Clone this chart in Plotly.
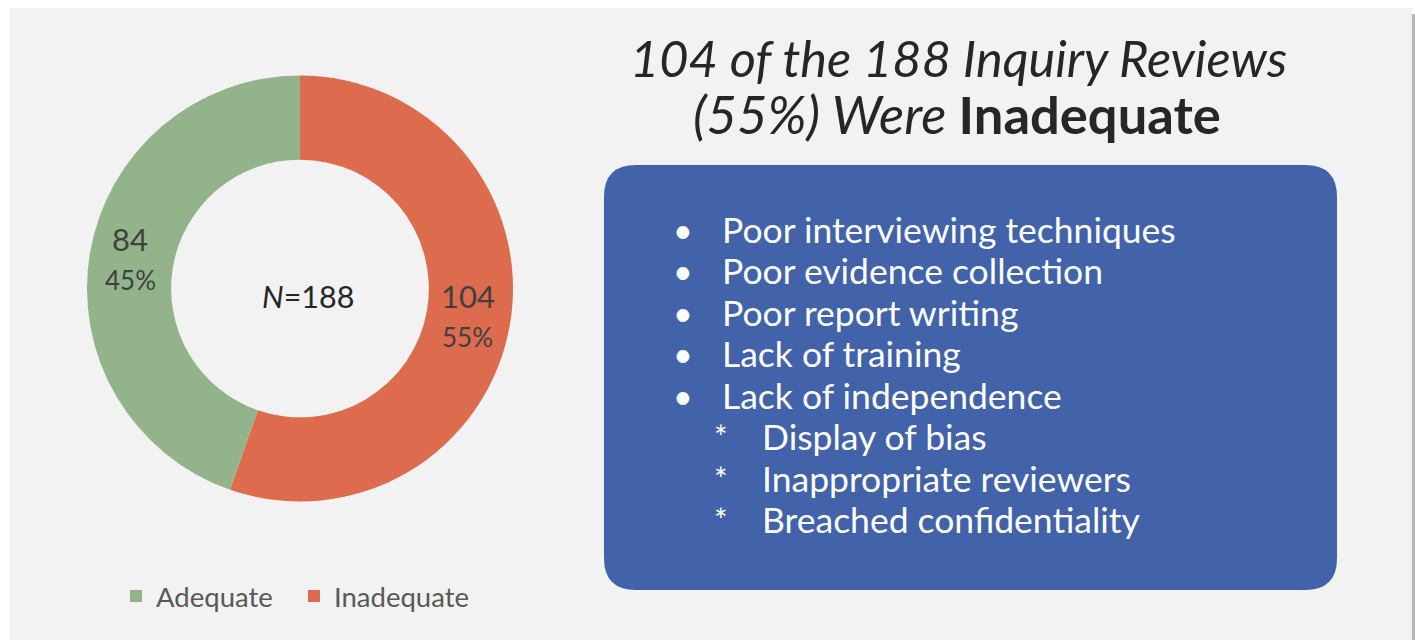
import math
import plotly.graph_objects as go

W, H = 1415, 640

# ---- data ----
labels = ["Adequate", "Inadequate"]
values = [84, 104]
colors = ["#93b48b", "#dd6b4e"]
title_line1 = "104 of the 188 Inquiry Reviews"
title_line2_a = "(55%) Were "
title_line2_b = "Inadequate"
bullets = ["Poor interviewing techniques", "Poor evidence collection",
           "Poor report writing", "Lack of training", "Lack of independence"]
sub_bullets = ["Display of bias", "Inappropriate reviewers", "Breached confidentiality"]
total_n = sum(values)


def fx(x):
    return x / W


def fy(y):
    return 1 - y / H


FONT = "Lato"

# pie geometry (pixels)
PIE_L, PIE_R, PIE_T, PIE_B = 87, 513, 75, 502
HOLE = 0.605

fig = go.Figure()

# slices listed in reverse so that "Inadequate" runs clockwise from 12 o'clock
# (right half) and "Adequate" fills the left half; legend order is restored below
fig.add_trace(go.Pie(
    labels=labels[::-1], values=values[::-1], sort=False, direction="clockwise", rotation=0,
    hole=HOLE,
    marker=dict(colors=colors[::-1], line=dict(width=0)),
    textinfo="none",
    domain=dict(x=[fx(PIE_L), fx(PIE_R)], y=[fy(PIE_B), fy(PIE_T)]),
    showlegend=True, hoverinfo="label+value+percent",
))

# data labels at the middle of each ring segment
cx, cy = (PIE_L + PIE_R) / 2, (PIE_T + PIE_B) / 2
R = min(PIE_R - PIE_L, PIE_B - PIE_T) / 2
rmid = R * (1 + HOLE) / 2
ann = []
start = 0.0
for lab, val in zip(labels[::-1], values[::-1]):
    frac = val / total_n
    mid = (start + frac / 2) * 2 * math.pi
    start += frac
    lx = cx + rmid * math.sin(mid)
    ly = cy - rmid * math.cos(mid)
    ann.append(dict(x=fx(lx - 1), y=fy(ly - 21), xref="paper", yref="paper", showarrow=False,
                    text=f"{val}", font=dict(family=FONT, size=31, color="#404040"),
                    xanchor="center", yanchor="middle"))
    ann.append(dict(x=fx(lx - 1), y=fy(ly + 20), xref="paper", yref="paper", showarrow=False,
                    text=f"{round(frac * 100)}%", font=dict(family=FONT, size=26, color="#404040"),
                    xanchor="center", yanchor="middle"))

shapes = []
# grey slide panel with a thin shadow on its right edge
shapes.append(dict(type="rect", xref="paper", yref="paper", x0=fx(9), x1=fx(1412), y0=0, y1=fy(8),
                   fillcolor="#f2f2f2", line=dict(width=0), layer="below"))
shapes.append(dict(type="rect", xref="paper", yref="paper", x0=fx(1412), x1=1, y0=0, y1=fy(14),
                   fillcolor="#b5b5b5", line=dict(width=0), layer="below"))

# rounded blue box
bx0, bx1, by0, by1, r = 604, 1337, 165, 590, 32
def P(x, y):
    return f"{fx(x):.6f},{fy(y):.6f}"
path = (f"M {P(bx0 + r, by0)} L {P(bx1 - r, by0)} Q {P(bx1, by0)} {P(bx1, by0 + r)} "
        f"L {P(bx1, by1 - r)} Q {P(bx1, by1)} {P(bx1 - r, by1)} "
        f"L {P(bx0 + r, by1)} Q {P(bx0, by1)} {P(bx0, by1 - r)} "
        f"L {P(bx0, by0 + r)} Q {P(bx0, by0)} {P(bx0 + r, by0)} Z")
shapes.append(dict(type="path", xref="paper", yref="paper", path=path,
                   fillcolor="#4262aa", line=dict(width=0), layer="below"))

ann.append(dict(x=fx(958), y=fy(57), xref="paper", yref="paper", showarrow=False,
                text=f"<i>{title_line1}</i>", font=dict(family=FONT, size=50.5, color="#262626"),
                xanchor="center", yanchor="middle"))
ann.append(dict(x=fx(957), y=fy(114), xref="paper", yref="paper", showarrow=False,
                text=f"<i>{title_line2_a}</i><b>{title_line2_b}</b>",
                font=dict(family=FONT, size=52.5, color="#262626"),
                xanchor="center", yanchor="middle"))

ann.append(dict(x=fx(308), y=fy(296), xref="paper", yref="paper", showarrow=False,
                text=f"<i>N</i>={total_n}", font=dict(family=FONT, size=30.5, color="#262626"),
                xanchor="center", yanchor="middle"))

line_y0, line_dy = 229, 41.5
for i, b in enumerate(bullets):
    y = line_y0 + i * line_dy
    ann.append(dict(x=fx(683), y=fy(y), xref="paper", yref="paper", showarrow=False,
                    text="•", font=dict(family=FONT, size=34, color="white"),
                    xanchor="center", yanchor="middle"))
    ann.append(dict(x=fx(720), y=fy(y), xref="paper", yref="paper", showarrow=False,
                    text=b, font=dict(family=FONT, size=35.5, color="white"),
                    xanchor="left", yanchor="middle"))
for j, s in enumerate(sub_bullets):
    y = line_y0 + (len(bullets) + j) * line_dy
    ann.append(dict(x=fx(721), y=fy(y), xref="paper", yref="paper", showarrow=False,
                    text="*", font=dict(family=FONT, size=32, color="white"),
                    xanchor="center", yanchor="middle"))
    ann.append(dict(x=fx(760), y=fy(y), xref="paper", yref="paper", showarrow=False,
                    text=s, font=dict(family=FONT, size=35.5, color="white"),
                    xanchor="left", yanchor="middle"))

fig.update_layout(
    width=W, height=H,
    margin=dict(l=0, r=0, t=0, b=0),
    paper_bgcolor="white", plot_bgcolor="white",
    shapes=shapes, annotations=ann,
    legend=dict(orientation="h", x=fx(116), y=fy(596), xanchor="left", yanchor="middle",
                font=dict(family=FONT, size=27.5, color="#595959"),
                bgcolor="rgba(0,0,0,0)", traceorder="reversed",
                entrywidth=133, entrywidthmode="pixels"),
    font=dict(family=FONT),
)

fig.write_html("out.html", config={"displayModeBar": False},
               post_script="document.body.style.margin='0';document.body.style.overflow='hidden';")
